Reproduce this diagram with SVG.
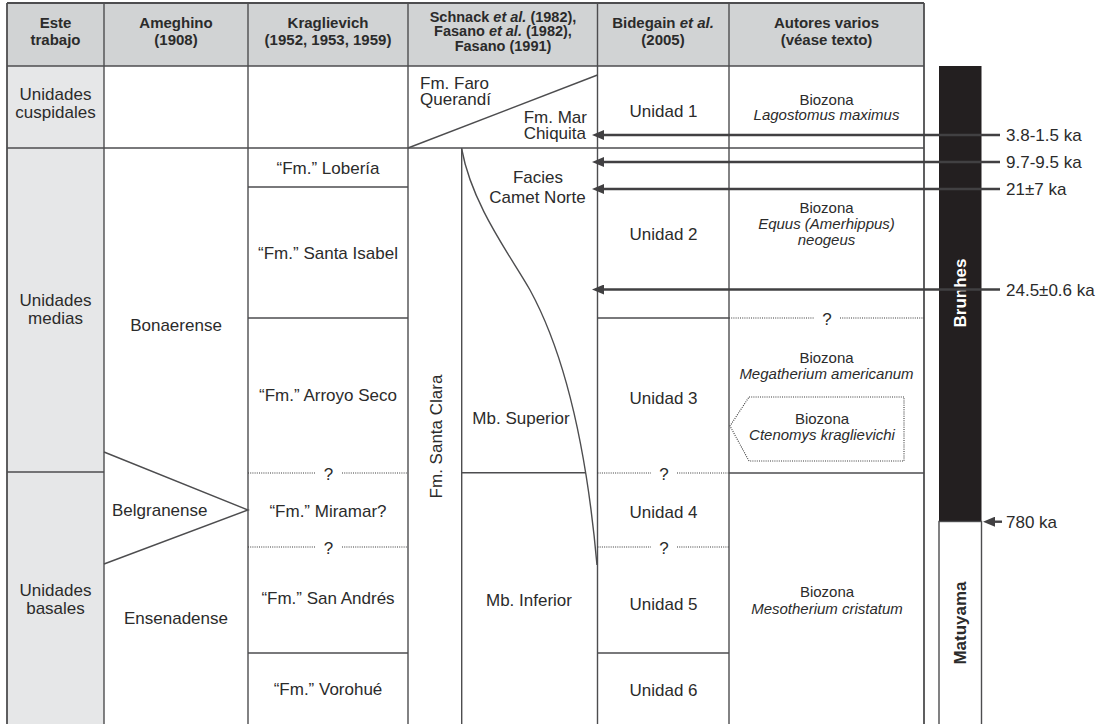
<svg xmlns="http://www.w3.org/2000/svg" width="1106" height="724" viewBox="0 0 1106 724">
<style>
.ln{stroke:#4d4d4f;stroke-width:1.4;fill:none}
.bd{stroke:#4d4d4f;stroke-width:1.8;fill:none}
.dt{stroke:#3a3a3a;stroke-width:1.1;stroke-dasharray:1 1.2;fill:none}
.hd{font-family:"Liberation Sans",Arial,sans-serif;font-size:15px;font-weight:bold;fill:#2b2b2b;text-anchor:middle}
.h3{font-size:14.5px}
.tx{font-family:"Liberation Sans",Arial,sans-serif;font-size:17px;fill:#2b2b2b}
.bz{font-family:"Liberation Sans",Arial,sans-serif;font-size:15px;fill:#2b2b2b;text-anchor:middle}
.c{text-anchor:middle}
.it{font-style:italic}
.wh{fill:#fff;font-weight:bold}
.bo{font-weight:bold}
.arw{stroke:#414042;stroke-width:2.4;fill:none;marker-end:url(#ah)}
</style>
<defs>
<marker id="ah" viewBox="0 0 12 10" markerWidth="12" markerHeight="10" refX="1" refY="5" orient="auto" markerUnits="userSpaceOnUse">
<path d="M0,0 L12,5 L0,10 z" fill="#414042"/>
</marker>
</defs>
<rect width="1106" height="724" fill="#fff"/>
<g id="fills">
<rect x="7" y="3" width="917" height="63" fill="#d1d3d4"/>
<rect x="7" y="66" width="97" height="658" fill="#e6e7e8"/>
</g>
<g id="grid">
<line class="bd" x1="7" y1="3" x2="924" y2="3"/>
<line class="bd" x1="7" y1="3" x2="7" y2="724"/>
<line class="bd" x1="924" y1="3" x2="924" y2="724"/>
<line class="ln" x1="7" y1="66" x2="924" y2="66"/>
<line class="ln" x1="7" y1="148" x2="924" y2="148"/>
<line class="ln" x1="7" y1="472" x2="104" y2="472"/>
<line class="ln" x1="104" y1="3" x2="104" y2="724"/>
<line class="ln" x1="248" y1="3" x2="248" y2="724"/>
<line class="ln" x1="408" y1="3" x2="408" y2="724"/>
<line class="ln" x1="461.7" y1="148" x2="461.7" y2="724"/>
<line class="ln" x1="597.5" y1="3" x2="597.5" y2="724"/>
<line class="ln" x1="729" y1="3" x2="729" y2="724"/>
<line class="ln" x1="248" y1="187" x2="408" y2="187"/>
<line class="ln" x1="248" y1="318" x2="408" y2="318"/>
<line class="ln" x1="248" y1="653" x2="408" y2="653"/>
<line class="ln" x1="597.5" y1="318" x2="729" y2="318"/>
<line class="ln" x1="597.5" y1="653" x2="729" y2="653"/>
<line class="ln" x1="729" y1="473" x2="924" y2="473"/>
<line class="ln" x1="461.7" y1="472.7" x2="585.7" y2="472.7"/>
<line class="ln" x1="408" y1="148" x2="597.5" y2="75"/>
<polyline class="ln" points="104,452 248,510 104,564"/>
<path class="ln" d="M461.7,149 C472,205 510,255 530,290 C560,345 585,430 597,565"/>
<line class="dt" x1="248" y1="473" x2="316" y2="473"/>
<line class="dt" x1="342" y1="473" x2="408" y2="473"/>
<line class="dt" x1="248" y1="547" x2="316" y2="547"/>
<line class="dt" x1="342" y1="547" x2="408" y2="547"/>
<line class="dt" x1="597.5" y1="473" x2="651" y2="473"/>
<line class="dt" x1="677" y1="473" x2="729" y2="473"/>
<line class="dt" x1="597.5" y1="547" x2="651" y2="547"/>
<line class="dt" x1="677" y1="547" x2="729" y2="547"/>
<line class="dt" x1="729" y1="318" x2="814" y2="318"/>
<line class="dt" x1="840" y1="318" x2="924" y2="318"/>
<polygon class="dt" points="749,397 904,397 904,461 749,461 730,426"/>
</g>
<g id="header">
<text class="hd" x="55.5" y="28">Este</text>
<text class="hd" x="55.5" y="45">trabajo</text>
<text class="hd" x="176" y="28">Ameghino</text>
<text class="hd" x="176" y="45">(1908)</text>
<text class="hd" x="328" y="28">Kraglievich</text>
<text class="hd" x="328" y="45">(1952, 1953, 1959)</text>
<text class="hd h3" x="503" y="21.5">Schnack <tspan class="it">et al.</tspan> (1982),</text>
<text class="hd h3" x="503" y="36">Fasano <tspan class="it">et al.</tspan> (1982),</text>
<text class="hd h3" x="503" y="50.5">Fasano (1991)</text>
<text class="hd" x="663" y="28">Bidegain <tspan class="it">et al.</tspan></text>
<text class="hd" x="663" y="45">(2005)</text>
<text class="hd" x="826.5" y="28">Autores varios</text>
<text class="hd" x="826.5" y="45">(véase texto)</text>
</g>
<g id="este-trabajo">
<text class="tx c" x="55.5" y="99.5">Unidades</text>
<text class="tx c" x="55.5" y="117.5">cuspidales</text>
<text class="tx c" x="55.5" y="306">Unidades</text>
<text class="tx c" x="55.5" y="324">medias</text>
<text class="tx c" x="55.5" y="596">Unidades</text>
<text class="tx c" x="55.5" y="614">basales</text>
</g>
<g id="ameghino">
<text class="tx c" x="176" y="331">Bonaerense</text>
<text class="tx" x="112" y="516">Belgranense</text>
<text class="tx c" x="176" y="624">Ensenadense</text>
</g>
<g id="kraglievich">
<text class="tx c" x="328" y="174">“Fm.” Lobería</text>
<text class="tx c" x="328" y="259">“Fm.” Santa Isabel</text>
<text class="tx c" x="328" y="401">“Fm.” Arroyo Seco</text>
<text class="tx c" x="328.5" y="479.5">?</text>
<text class="tx c" x="328" y="517">“Fm.” Miramar?</text>
<text class="tx c" x="328.5" y="553.5">?</text>
<text class="tx c" x="328" y="604">“Fm.” San Andrés</text>
<text class="tx c" x="328" y="695">“Fm.” Vorohué</text>
</g>
<g id="schnack">
<text class="tx" x="420" y="89">Fm. Faro</text>
<text class="tx" x="420" y="105">Querandí</text>
<text class="tx" x="587" y="123" text-anchor="end">Fm. Mar</text>
<text class="tx" x="586" y="139" text-anchor="end">Chiquita</text>
<text class="tx c" transform="translate(442,436.5) rotate(-90)">Fm. Santa Clara</text>
<text class="tx c" x="538" y="182.5">Facies</text>
<text class="tx c" x="537.5" y="202.5">Camet Norte</text>
<text class="tx c" x="521" y="423.5">Mb. Superior</text>
<text class="tx c" x="529" y="606">Mb. Inferior</text>
</g>
<g id="bidegain">
<text class="tx c" x="663.5" y="117">Unidad 1</text>
<text class="tx c" x="663.5" y="240">Unidad 2</text>
<text class="tx c" x="663.5" y="403.5">Unidad 3</text>
<text class="tx c" x="664" y="479.5">?</text>
<text class="tx c" x="663.5" y="518">Unidad 4</text>
<text class="tx c" x="664" y="553.5">?</text>
<text class="tx c" x="663.5" y="609.5">Unidad 5</text>
<text class="tx c" x="663.5" y="695.5">Unidad 6</text>
</g>
<g id="autores">
<text class="bz" x="826.5" y="104.5">Biozona</text>
<text class="bz it" x="826.5" y="120">Lagostomus maximus</text>
<text class="bz" x="826.5" y="212.5">Biozona</text>
<text class="bz it" x="826.5" y="228.5">Equus (Amerhippus)</text>
<text class="bz it" x="826.5" y="244.5">neogeus</text>
<text class="tx c" x="827" y="324.5">?</text>
<text class="bz" x="826.5" y="362.5">Biozona</text>
<text class="bz it" x="826.5" y="378.5">Megatherium americanum</text>
<text class="bz" x="822" y="423.5">Biozona</text>
<text class="bz it" x="822" y="440">Ctenomys kraglievichi</text>
<text class="bz" x="827" y="597">Biozona</text>
<text class="bz it" x="827" y="613.5">Mesotherium cristatum</text>
</g>
<g id="polarity">
<rect x="939" y="66" width="42.5" height="455.5" fill="#231f20"/>
<rect x="939" y="521.5" width="42.5" height="205" fill="#fff" stroke="#4d4d4f" stroke-width="1.4"/>
<text class="tx c wh" transform="translate(965.5,293) rotate(-90)">Brunhes</text>
<text class="tx c bo" transform="translate(965.5,623) rotate(-90)">Matuyama</text>
</g>
<g id="connectors">
<line class="arw" x1="1000" y1="135" x2="603" y2="135"/>
<line class="arw" x1="1000" y1="162" x2="603" y2="162"/>
<line class="arw" x1="1000" y1="189" x2="603" y2="189"/>
<line class="arw" x1="1000" y1="289.5" x2="603" y2="289.5"/>
<line class="arw" x1="1002" y1="521.7" x2="994" y2="521.7"/>
</g>
<g id="ages">
<text class="tx" x="1006" y="141">3.8-1.5 ka</text>
<text class="tx" x="1006" y="168">9.7-9.5 ka</text>
<text class="tx" x="1006" y="195">21±7 ka</text>
<text class="tx" x="1006" y="295.5">24.5±0.6 ka</text>
<text class="tx" x="1006" y="528">780 ka</text>
</g>
</svg>
